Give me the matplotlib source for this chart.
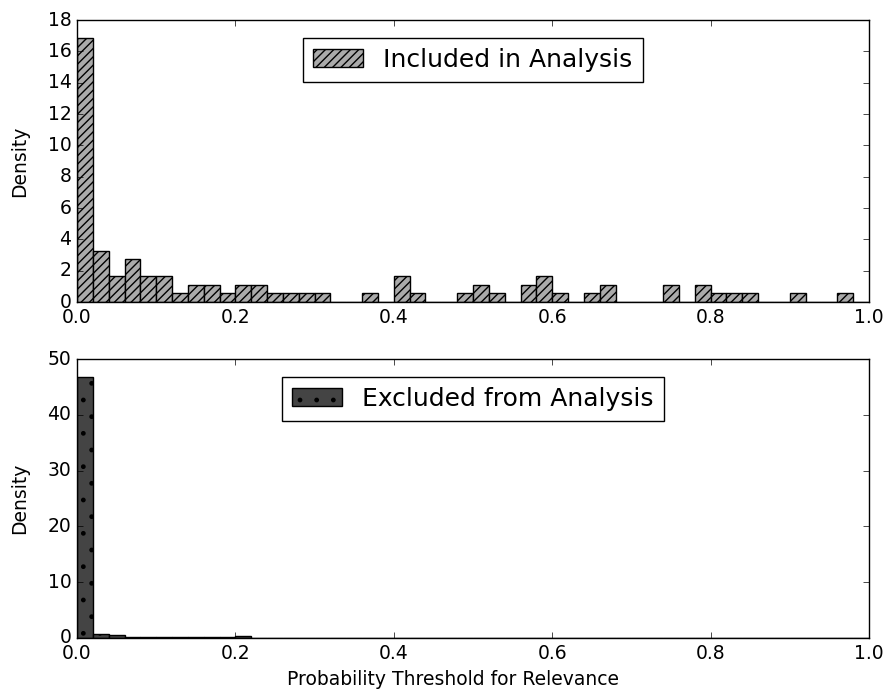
import numpy as np
import matplotlib
matplotlib.use("Agg")
import matplotlib.pyplot as plt

plt.style.use('classic')
plt.rcParams['xtick.labelsize'] = 13.5
plt.rcParams['ytick.labelsize'] = 13.5
plt.rcParams['axes.labelsize'] = 13.5

# Bin edges (50 bins of width 0.02 on [0, 1])
bin_edges = np.linspace(0.0, 1.0, 51)

# Included in Analysis: counts per bin, shown as density
included_counts = [31, 6, 3, 5, 3, 3, 1, 2, 2, 1,
                   2, 2, 1, 1, 1, 1, 0, 0, 1, 0,
                   3, 1, 0, 0, 1, 2, 1, 0, 2, 3,
                   1, 0, 1, 2, 0, 0, 0, 2, 0, 2,
                   1, 1, 1, 0, 0, 1, 0, 0, 1, 0]

# Excluded from Analysis: densities per bin
excluded_density = [46.8, 0.72, 0.48, 0.25, 0.25, 0.25, 0.1, 0.25, 0.1, 0.1,
                    0.35, 0.04, 0.03, 0.03, 0.02, 0.02, 0.02, 0.02, 0.01, 0.01,
                    0.01, 0.01, 0.01, 0.01, 0.0, 0.0, 0.0, 0.0, 0.0, 0.0,
                    0.0, 0.0, 0.0, 0.0, 0.0, 0.0, 0.0, 0.0, 0.0, 0.0,
                    0.0, 0.0, 0.0, 0.0, 0.0, 0.0, 0.0, 0.0, 0.0, 0.0]

top_yticks = [0, 2, 4, 6, 8, 10, 12, 14, 16, 18]
bottom_yticks = [0, 10, 20, 30, 40, 50]
xticks = [0.0, 0.2, 0.4, 0.6, 0.8, 1.0]

fig = plt.figure(figsize=(8.89, 6.90), dpi=100, facecolor='white')
ax1 = fig.add_axes([0.0866, 0.5623, 0.8909, 0.4087])
ax2 = fig.add_axes([0.0866, 0.0754, 0.8909, 0.4043])

centers = 0.5 * (bin_edges[:-1] + bin_edges[1:])
ax1.hist(centers, bins=bin_edges, weights=included_counts, density=True,
         color='#aaaaaa', edgecolor='black', hatch='////', linewidth=1.0,
         label='Included in Analysis')
ax1.set_xlim(0, 1)
ax1.set_ylim(0, 18)
ax1.set_yticks(top_yticks)
ax1.set_xticks(xticks)
ax1.set_ylabel('Density')
ax1.yaxis.set_label_coords(-0.06, 0.5)
ax1.legend(loc='upper center', fontsize=18, borderaxespad=0.7)

widths = np.diff(bin_edges)
ax2.bar(bin_edges[:-1], excluded_density, width=widths, align='edge',
        color='#444444', edgecolor='black', hatch='.', linewidth=1.0,
        label='Excluded from Analysis')
ax2.set_xlim(0, 1)
ax2.set_ylim(0, 50)
ax2.set_yticks(bottom_yticks)
ax2.set_xticks(xticks)
ax2.set_ylabel('Density')
ax2.yaxis.set_label_coords(-0.06, 0.5)
ax2.set_xlabel('Probability Threshold for Relevance')
ax2.xaxis.set_label_coords(0.475, -0.115)
ax2.legend(loc='upper center', fontsize=18, borderaxespad=0.7)

fig.savefig('out.png', dpi=100, facecolor='white')
